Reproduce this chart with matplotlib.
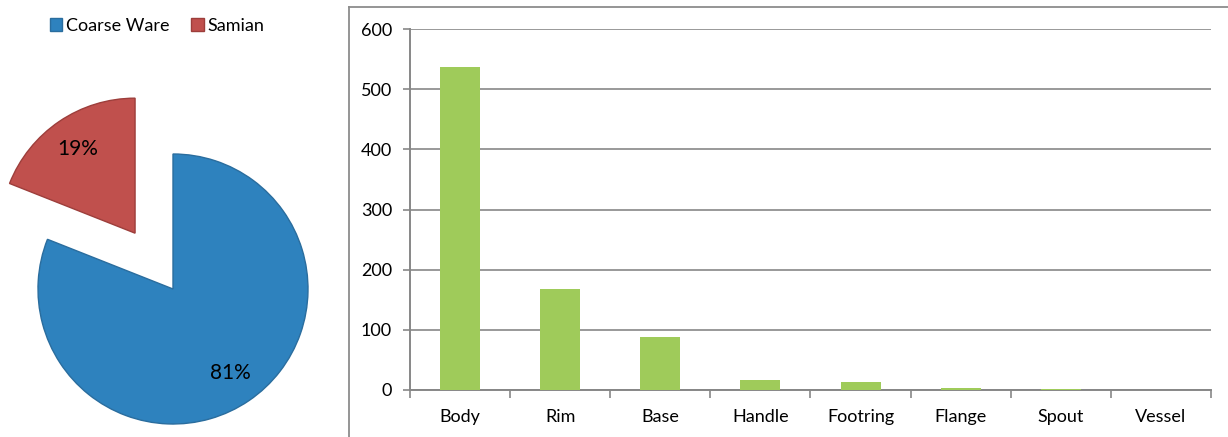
import matplotlib.pyplot as plt
from matplotlib.lines import Line2D

plt.rcParams['font.family'] = ['Lato', 'DejaVu Sans']

W, H = 1228, 437

# pie data
ware_types = ['Coarse Ware', 'Samian']
ware_share = [81, 19]
pie_colors = ['#2e82be', '#c0504d']
pie_edges = ['#2a6d9e', '#9d3e3b']

# bar data
parts = ['Body', 'Rim', 'Base', 'Handle', 'Footring', 'Flange', 'Spout', 'Vessel']
counts = [537, 168, 88, 16, 13, 3, 1, 0]
bar_color = '#9fcb5a'
grid_color = '#878787'

fig = plt.figure(figsize=(W / 100, H / 100), dpi=100)


def px_axes(x0, y0, x1, y1):
    # pixel box (top-left origin) -> figure axes
    return fig.add_axes([x0 / W, 1 - y1 / H, (x1 - x0) / W, (y1 - y0) / H])


# ---- pie ----
cx, cy, r = 173, 289, 135
ax1 = px_axes(0, 60, 340, 437)
wedges, texts, autotexts = ax1.pie(
    ware_share, colors=pie_colors, startangle=90, counterclock=False,
    explode=[0, 0.5], autopct='%1.0f%%', pctdistance=0.75,
    wedgeprops=dict(linewidth=1), textprops=dict(fontsize=15, color='black'))
for w, ec in zip(wedges, pie_edges):
    w.set_edgecolor(ec)
ax1.set_aspect('auto')
ax1.set_xlim((0 - cx) / r, (340 - cx) / r)
ax1.set_ylim((cy - 437) / r, (cy - 60) / r)
ax1.axis('off')

handles = [plt.Rectangle((0, 0), 1, 1, facecolor=c, edgecolor=e)
           for c, e in zip(pie_colors, pie_edges)]
fig.legend(handles, ware_types, loc='center', bbox_to_anchor=(157 / W, 1 - 26 / H),
           ncol=2, frameon=False, fontsize=13, handlelength=0.7, handleheight=0.7,
           handletextpad=0.2, columnspacing=1.2)

# ---- bar ----
ax2 = px_axes(410, 29, 1211, 390)
x = range(len(parts))
ax2.bar(x, counts, width=0.4, color=bar_color, zorder=3)
ax2.set_xlim(-0.5, len(parts) - 0.5)
ax2.set_ylim(0, 600)
ax2.set_yticks(range(0, 601, 100))
ax2.set_xticks(list(x))
ax2.set_xticklabels(parts)
ax2.set_xticks([i - 0.5 for i in range(len(parts) + 1)], minor=True)
ax2.tick_params(axis='x', which='major', length=0, pad=14, labelsize=13)
ax2.tick_params(axis='x', which='minor', length=6, color=grid_color, width=1.2)
ax2.tick_params(axis='y', length=5, color=grid_color, width=1.2, labelsize=13, pad=8)
ax2.grid(axis='y', color=grid_color, linewidth=1.2, zorder=0)
for s in ['top', 'right']:
    ax2.spines[s].set_visible(False)
for s in ['left', 'bottom']:
    ax2.spines[s].set_color(grid_color)
    ax2.spines[s].set_linewidth(1.4)

# outer frame of the bar chart
fig.add_artist(Line2D([349 / W, 349 / W], [0, 1 - 6.5 / H], color='#8c8c8c', lw=1.3))
fig.add_artist(Line2D([349 / W, 1], [1 - 6.5 / H, 1 - 6.5 / H], color='#8c8c8c', lw=1.3))

fig.savefig('out.png', dpi=100)
